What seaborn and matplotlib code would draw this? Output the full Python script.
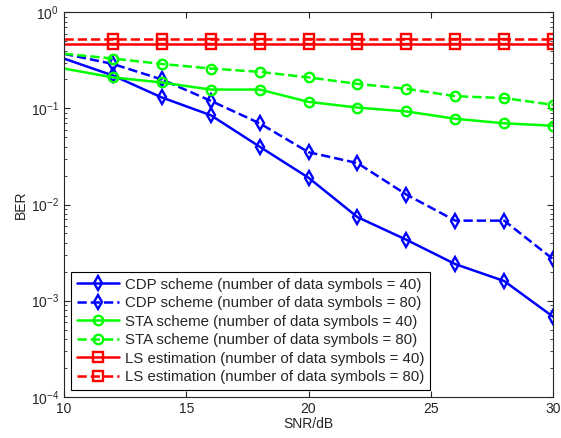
import numpy as np
import pandas as pd
import matplotlib
matplotlib.use('Agg')
import matplotlib.pyplot as plt
import seaborn as sns

snr = [10, 12, 14, 16, 18, 20, 22, 24, 26, 28, 30]

cdp_40 = [0.33, 0.22, 0.13, 0.085, 0.040, 0.019, 0.0074, 0.0043, 0.0024, 0.0016, 0.00068]
cdp_80 = [0.37, 0.29, 0.20, 0.12, 0.070, 0.035, 0.027, 0.0127, 0.0068, 0.0068, 0.0027]
sta_40 = [0.26, 0.21, 0.186, 0.157, 0.157, 0.117, 0.102, 0.093, 0.078, 0.070, 0.066]
sta_80 = [0.37, 0.33, 0.29, 0.26, 0.24, 0.21, 0.18, 0.16, 0.134, 0.128, 0.109]
ls_40 = [0.47, 0.47, 0.47, 0.47, 0.47, 0.47, 0.47, 0.47, 0.47, 0.47, 0.47]
ls_80 = [0.53, 0.53, 0.53, 0.53, 0.53, 0.53, 0.53, 0.53, 0.53, 0.53, 0.53]

labels = ['CDP scheme (number of data symbols = 40)',
          'CDP scheme (number of data symbols = 80)',
          'STA scheme (number of data symbols = 40)',
          'STA scheme (number of data symbols = 80)',
          'LS estimation (number of data symbols = 40)',
          'LS estimation (number of data symbols = 80)']

sns.set_style('ticks')
plt.rcParams['font.family'] = ['Liberation Sans', 'DejaVu Sans']
plt.rcParams['mathtext.default'] = 'regular'
plt.rcParams['xtick.direction'] = 'in'
plt.rcParams['ytick.direction'] = 'in'

fig = plt.figure(figsize=(5.61, 4.38), dpi=100)
ax = fig.add_axes([0.114, 0.094, 0.872, 0.878])

series = [(cdp_40, '#0000ff', '-', 'd'),
          (cdp_80, '#0000ff', '--', 'd'),
          (sta_40, '#00ff00', '-', 'o'),
          (sta_80, '#00ff00', '--', 'o'),
          (ls_40, '#ff0000', '-', 's'),
          (ls_80, '#ff0000', '--', 's')]

for (vals, col, ls, mk), lab in zip(series, labels):
    df = pd.DataFrame({'snr': snr, 'ber': vals})
    kw = dict(dashes=(5, 3.2)) if ls == '--' else {}
    sns.lineplot(x='snr', y='ber', data=df, ax=ax, color=col, linestyle=ls,
                 marker=mk, markersize=6.8, markerfacecolor='none', markeredgecolor=col,
                 markeredgewidth=1.7, linewidth=1.8, markevery=slice(1, None),
                 label=lab, **kw)

ax.set_yscale('log')
ax.set_xlim(10, 30)
ax.set_ylim(1e-4, 1)
ax.set_xticks([10, 15, 20, 25, 30])
ax.set_xlabel('SNR/dB', fontsize=10, labelpad=1)
ax.set_ylabel('BER', fontsize=10, labelpad=2)
ax.tick_params(axis='both', which='both', top=True, right=True, labelsize=10)
ax.tick_params(axis='both', which='major', length=4, width=0.8)
ax.tick_params(axis='y', which='minor', length=2, width=0.6)
for s in ax.spines.values():
    s.set_linewidth(0.8)

leg = ax.legend(loc='lower left', fontsize=10.8, frameon=True, fancybox=False,
                edgecolor='k', framealpha=1, borderpad=0.4, labelspacing=0.3,
                handlelength=2.8, handletextpad=0.4, borderaxespad=0.45)
leg.get_frame().set_linewidth(0.8)

plt.savefig('out.png', dpi=100)
